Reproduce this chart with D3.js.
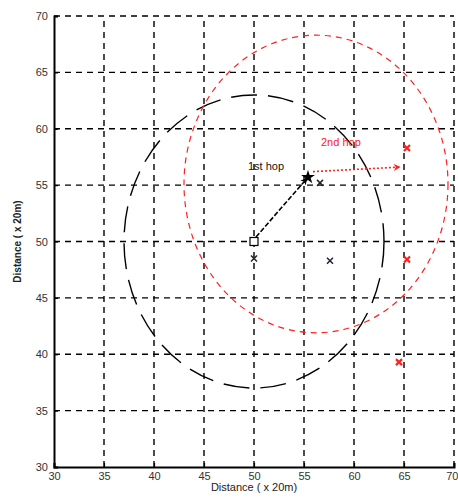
<!DOCTYPE html>
<html>
<head>
<meta charset="utf-8">
<script src="https://cdn.jsdelivr.net/npm/d3@7"></script>
<style>
  body { margin: 0; background: #fff; }
  text { font-family: "Liberation Sans", Arial, sans-serif; }
</style>
</head>
<body>
<svg id="chart" width="458" height="499"></svg>
<script>
// axis ticks
const xTicks = [30, 35, 40, 45, 50, 55, 60, 65, 70];
const yTicks = [30, 35, 40, 45, 50, 55, 60, 65, 70];

// coverage circles [cx, cy, r]
const circleBlack = [50, 50, 13];
const circleRed = [56.2, 55.1, 13.2];

// nodes
const sourceNode = [50, 50];
const hopNode = [55.4, 55.7];
const blackNodes = [[50, 48.5], [57.6, 48.3], [56.6, 55.2]];
const redNodes = [[65.3, 58.3], [65.3, 48.4], [64.5, 39.3]];

// hop arrows [x1, y1, x2, y2]
const firstHop = [50.2, 50.4, 55.3, 55.6];
const secondHop = [55.9, 56.2, 64.6, 56.6];

// labels
const labels = [
  { text: "1st hop", x: 49.4, y: 56.3, color: "#111" },
  { text: "2nd hop", x: 56.7, y: 58.5, color: "#ff2020" }
];

const svg = d3.select('#chart');
const margin = { left: 54, right: 4, top: 16, bottom: 32 };
const W = 458, H = 499;

const x = d3.scaleLinear().domain([30, 70]).range([margin.left, W - margin.right]);
const y = d3.scaleLinear().domain([30, 70]).range([H - margin.bottom, margin.top]);

// grid
const grid = svg.append('g');
grid.selectAll('.vg').data(xTicks.slice(1)).enter().append('line')
  .attr('x1', d => x(d)).attr('x2', d => x(d))
  .attr('y1', y(30)).attr('y2', y(70))
  .attr('stroke', '#000').attr('stroke-width', 1.4)
  .attr('stroke-dasharray', '6,5');
grid.selectAll('.hg').data(yTicks.slice(1)).enter().append('line')
  .attr('x1', x(30)).attr('x2', x(70))
  .attr('y1', d => y(d)).attr('y2', d => y(d))
  .attr('stroke', '#000').attr('stroke-width', 1.4)
  .attr('stroke-dasharray', '6,5');

// axes
const xAxis = d3.axisBottom(x).tickValues(xTicks).tickSize(-4).tickPadding(5).tickFormat(d3.format('d'));
const yAxis = d3.axisLeft(y).tickValues(yTicks).tickSize(-4).tickPadding(6).tickFormat(d3.format('d'));

const gx = svg.append('g').attr('transform', `translate(0,${y(30)})`).call(xAxis);
const gy = svg.append('g').attr('transform', `translate(${x(30)},0)`).call(yAxis);
[gx, gy].forEach(g => {
  g.select('.domain').attr('stroke', '#000').attr('stroke-width', 2);
  g.selectAll('.tick line').attr('stroke', '#000').attr('stroke-width', 1.2);
  g.selectAll('.tick text').attr('font-size', 11).attr('fill', '#333')
    .style('font-family', '"Liberation Sans", Arial, sans-serif');
});
// last x tick label sits at the edge, as in the source figure
gx.selectAll('.tick text').filter(d => d === 70).attr('text-anchor', 'end').attr('dx', 4);

// circles
function drawCircle(c, color, width, dash) {
  svg.append('ellipse')
    .attr('cx', x(c[0])).attr('cy', y(c[1]))
    .attr('rx', x(c[0] + c[2]) - x(c[0]))
    .attr('ry', y(c[1]) - y(c[1] + c[2]))
    .attr('fill', 'none').attr('stroke', color)
    .attr('stroke-width', width).attr('stroke-dasharray', dash);
}
drawCircle(circleBlack, '#000', 1.4, '26,11');
drawCircle(circleRed, '#ff2020', 1.2, '6,5');

// arrow markers
const defs = svg.append('defs');
function arrowHead(id, color) {
  defs.append('marker').attr('id', id)
    .attr('viewBox', '0 0 10 10').attr('refX', 9).attr('refY', 5)
    .attr('markerWidth', 9).attr('markerHeight', 7)
    .attr('markerUnits', 'userSpaceOnUse')
    .attr('orient', 'auto')
    .append('path').attr('d', 'M0,0 L10,5 L0,10 L3,5 Z').attr('fill', color);
}
arrowHead('ahBlack', '#000');
arrowHead('ahRed', '#ff2020');

svg.append('line')
  .attr('x1', x(firstHop[0])).attr('y1', y(firstHop[1]))
  .attr('x2', x(firstHop[2])).attr('y2', y(firstHop[3]))
  .attr('stroke', '#000').attr('stroke-width', 1.6)
  .attr('stroke-dasharray', '5,2')
  .attr('marker-end', 'url(#ahBlack)');

svg.append('line')
  .attr('x1', x(secondHop[0])).attr('y1', y(secondHop[1]))
  .attr('x2', x(secondHop[2])).attr('y2', y(secondHop[3]))
  .attr('stroke', '#ff2020').attr('stroke-width', 1.6)
  .attr('stroke-dasharray', '2,2')
  .attr('marker-end', 'url(#ahRed)');

// source square
svg.append('rect')
  .attr('x', x(sourceNode[0]) - 4).attr('y', y(sourceNode[1]) - 4)
  .attr('width', 8).attr('height', 8)
  .attr('fill', '#fff').attr('stroke', '#000').attr('stroke-width', 1.2);

// hop star
svg.append('path')
  .attr('transform', `translate(${x(hopNode[0])},${y(hopNode[1])})`)
  .attr('d', d3.symbol(d3.symbolStar, 60)())
  .attr('fill', '#000');

// x nodes
function crossNodes(data, color, w) {
  svg.selectAll(null).data(data).enter().append('path')
    .attr('transform', d => `translate(${x(d[0])},${y(d[1])})`)
    .attr('d', 'M-3,-3 L3,3 M3,-3 L-3,3')
    .attr('stroke', color).attr('stroke-width', w);
}
crossNodes(blackNodes, '#223', 1.5);
crossNodes(redNodes, '#ff2020', 2.2);

// text labels
svg.selectAll('.lbl').data(labels).enter().append('text')
  .attr('x', d => x(d.x)).attr('y', d => y(d.y))
  .attr('font-size', 11).attr('fill', d => d.color)
  .text(d => d.text);

// axis titles
svg.append('text')
  .attr('x', x(50)).attr('y', H - 8)
  .attr('text-anchor', 'middle').attr('font-size', 11).attr('fill', '#222')
  .text('Distance ( x 20m)');
svg.append('text')
  .attr('transform', `translate(21,${y(50)}) rotate(-90)`)
  .attr('text-anchor', 'middle').attr('font-size', 10).attr('fill', '#222')
  .attr('font-weight', 'bold')
  .text('Distance ( x 20m)');
</script>
</body>
</html>
